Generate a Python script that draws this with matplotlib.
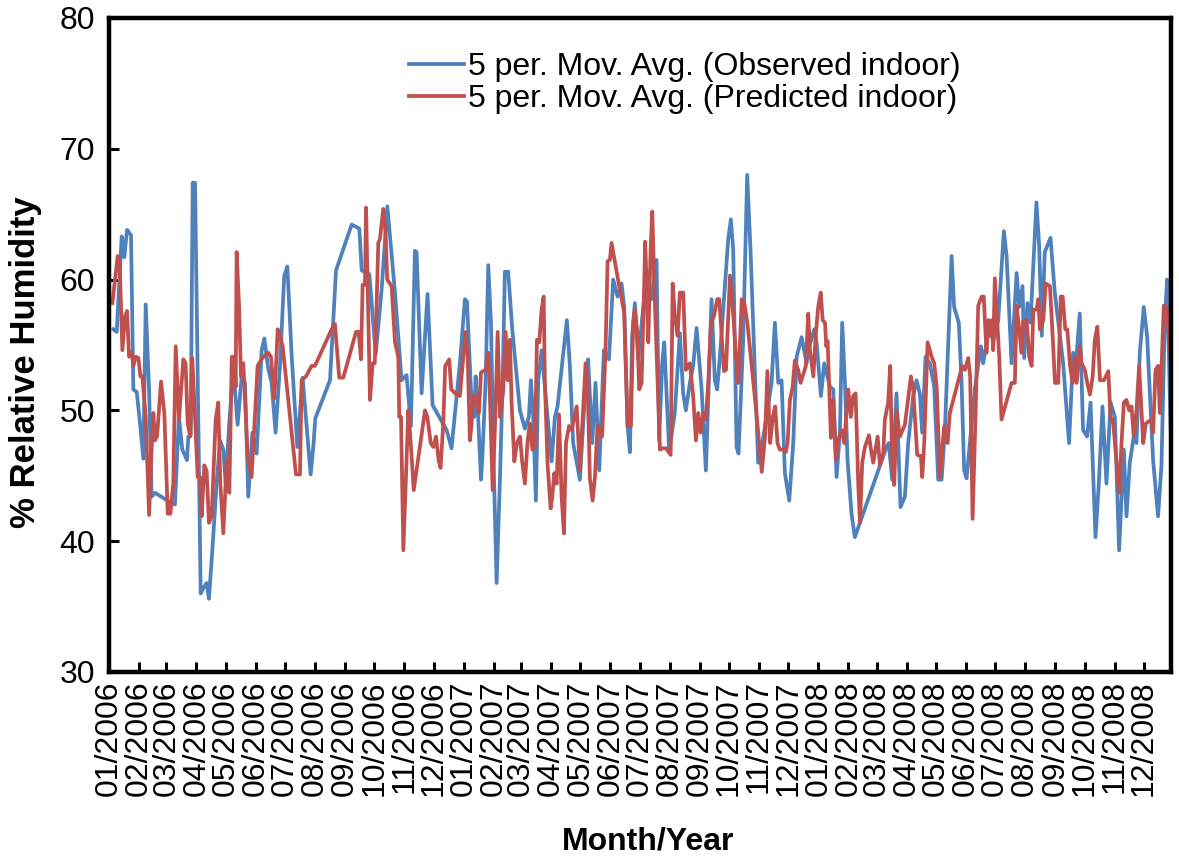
import numpy as np
import matplotlib
matplotlib.use("Agg")
import matplotlib.pyplot as plt
import matplotlib.dates as mdates

plt.rcParams['font.family'] = ['Liberation Sans', 'DejaVu Sans']

# days since 01/01/2006
obs_day = [4.4, 7.9, 13.0, 15.7, 18.5, 22.6, 25.0, 28.5, 31.9, 35.3, 37.7, 41.2, 43.8, 47.3, 64.4, 67.8,
           71.9, 75.4, 80.2, 81.6, 84.0, 86.1, 88.5, 91.9, 94.3, 97.0, 100.4, 102.8, 106.3, 110.7, 114.2,
           117.6, 120.0, 123.5, 126.8, 129.6, 132.3, 136.5, 139.9, 143.3, 147.5, 151.9, 157.1, 159.8,
           163.8, 167.3, 171.4, 175.9, 180.3, 183.5, 188.0, 193.8, 199.2, 207.5, 210.2, 212.3, 227.4,
           233.6, 249.7, 257.6, 260.0, 267.9, 274.5, 280.6, 286.4, 294.3, 301.1, 306.2, 310.7, 314.8,
           316.5, 321.7, 327.8, 333.0, 347.4, 352.5, 361.1, 366.3, 368.4, 372.5, 375.9, 377.3, 379.4,
           382.8, 384.1, 387.6, 390.3, 393.1, 395.5, 398.9, 402.3, 405.1, 407.4, 410.8, 415.0, 422.9,
           428.0, 432.1, 434.2, 436.6, 439.3, 441.7, 445.2, 451.3, 455.5, 458.9, 461.6, 471.2, 474.3,
           477.7, 484.6, 490.5, 493.1, 497.3, 500.7, 504.5, 509.3, 514.5, 518.9, 523.4, 527.5, 530.2,
           533.7, 536.1, 538.4, 541.2, 544.7, 551.5, 558.4, 563.5, 566.2, 569.3, 571.4, 576.5, 582.3,
           584.7, 587.5, 590.9, 593.7, 597.8, 601.2, 604.7, 609.9, 614.3, 618.4, 620.1, 623.5, 625.9,
           628.7, 637.3, 640.0, 642.4, 645.9, 647.9, 652.6, 656.8, 660.2, 668.1, 671.5, 681.9, 685.3,
           688.8, 692.2, 695.6, 700.1, 704.2, 707.7, 712.8, 718.0, 719.6, 725.8, 728.2, 732.7, 736.1,
           742.0, 745.4, 748.8, 752.2, 754.6, 757.4, 760.1, 764.2, 767.6, 800.2, 802.5, 806.0, 810.5,
           814.6, 819.1, 822.5, 827.7, 831.1, 834.5, 836.9, 840.4, 844.8, 849.3, 853.4, 856.9, 860.3,
           867.2, 869.8, 874.6, 877.4, 880.1, 882.6, 891.1, 897.3, 899.7, 906.6, 910.0, 915.2, 921.0,
           923.8, 928.9, 934.1, 936.8, 940.2, 941.9, 945.3, 948.4, 954.5, 957.3, 960.0, 963.1, 969.0,
           973.4, 982.0, 988.1, 992.3, 995.7, 999.1, 1002.5, 1006.6, 1010.2, 1015.3, 1018.7, 1022.5,
           1026.6, 1030.8, 1035.2, 1039.6, 1044.5, 1047.2, 1050.6, 1054.7, 1057.5, 1060.9, 1065.0,
           1068.4, 1074.6, 1079.7, 1083.2, 1086.6, 1089.0, 1093.0]
obs_rh = [56.2, 56.0, 63.3, 61.7, 63.8, 63.4, 51.6, 51.4, 49.0, 46.3, 58.1, 51.6, 43.4, 43.7, 42.9, 42.8,
          49.5, 47.0, 46.2, 48.0, 48.1, 67.4, 67.4, 48.8, 36.0, 36.4, 36.8, 35.6, 39.3, 44.4, 47.7,
          47.0, 44.4, 48.8, 52.1, 51.6, 48.9, 52.6, 52.1, 43.4, 48.3, 46.7, 54.6, 55.5,
          53.2, 52.1, 48.3, 53.4, 60.3, 61.0, 54.1, 47.2, 52.5, 45.1, 47.2, 49.4, 52.3,
          60.7, 64.2, 63.9, 60.7, 60.4, 54.3, 59.3, 65.6, 59.0, 52.3, 52.7, 48.8, 62.2,
          62.1, 51.3, 58.9, 50.4, 48.5, 47.1, 53.6, 58.5, 58.3, 51.6, 49.5, 52.6, 50.3,
          44.7, 46.2, 52.3, 61.1, 56.7, 47.0, 36.8, 44.7, 52.1, 60.6, 60.6, 56.2, 50.0,
          48.6, 49.5, 52.3, 49.5, 43.1, 52.3, 54.6, 49.5, 46.1, 49.5, 50.3, 56.9, 53.4,
          47.5, 44.7, 52.1, 53.9, 47.5, 52.1, 45.4, 54.6, 53.9, 60.0, 58.7, 59.7, 57.9,
          48.8, 46.8, 55.7, 58.2, 53.9, 59.2, 58.5, 61.5, 47.7, 53.6, 55.2, 46.9, 49.8,
          52.6, 55.9, 51.3, 50.0, 52.1, 53.4, 56.3, 51.6, 45.4, 54.6, 58.5, 52.3, 51.6,
          54.1, 63.1, 64.6, 62.3, 47.2, 46.7, 55.2, 68.0, 62.3, 46.0, 47.0, 52.1, 56.7,
          52.1, 52.3, 45.2, 43.1, 47.5, 54.1, 55.6, 53.6, 54.6, 56.2, 55.2, 51.1, 53.6,
          51.8, 51.6, 44.9, 48.3, 56.7, 52.1, 46.2, 42.1, 40.3, 47.2, 47.5, 44.7, 51.3,
          42.6, 43.4, 47.5, 51.1, 52.3, 51.3, 48.3, 54.1, 53.6, 51.8, 44.7, 44.7, 48.5,
          61.8, 57.9, 56.7, 52.3, 45.4, 44.8, 51.6, 54.9, 53.6, 56.7, 55.2, 56.9, 63.7,
          61.8, 53.6, 60.5, 57.9, 59.5, 54.0, 58.2, 56.7, 65.9, 62.6, 55.7, 62.1, 63.2,
          59.0, 53.6, 47.5, 54.4, 54.1, 57.4, 48.5, 48.0, 50.6, 40.3, 44.4, 50.3,
          44.4, 50.6, 49.5, 39.3, 47.0, 41.9, 46.0, 48.0, 47.5, 54.4, 57.9,
          55.7, 46.2, 41.9, 45.8, 56.7, 60.0, 47.5]

pred_day = [3.4, 8.9, 10.9, 13.7, 16.5, 18.5, 20.6, 23.3, 25.0, 27.4, 30.2, 32.3, 34.3, 37.7, 41.2, 43.8,
            45.6, 47.3, 49.4, 53.5, 56.9, 60.4, 63.1, 66.1, 68.6, 72.0, 76.4, 78.8, 80.9, 83.6, 85.6,
            87.7, 91.2, 93.6, 95.3, 98.0, 100.4, 102.8, 105.6, 109.7, 112.4, 114.5, 117.6, 121.1, 123.8,
            126.3, 129.0, 130.3, 131.3, 133.8, 135.8, 138.2, 142.7, 146.7, 152.9, 157.7, 163.8, 166.7,
            170.1, 171.5, 173.6, 175.9, 178.7, 192.4, 196.5, 198.2, 202.7, 208.5, 211.9, 229.1, 232.5,
            236.9, 241.1, 254.2, 256.9, 259.3, 261.0, 263.4, 264.5, 268.6, 271.3, 273.4, 274.7, 277.1,
            278.8, 282.2, 284.6, 286.3, 290.8, 294.3, 297.7, 298.7, 300.5, 302.9, 308.0, 310.5, 313.6,
            325.2, 327.6, 331.1, 333.8, 336.5, 339.2, 341.2, 344.0, 346.0, 350.1, 352.2, 357.7, 361.1,
            364.6, 367.0, 369.1, 371.4, 373.2, 374.8, 377.3, 380.7, 382.8, 387.6, 390.3, 392.1, 394.8,
            397.2, 400.0, 402.3, 405.8, 408.2, 410.3, 412.6, 414.3, 417.1, 419.8, 422.9, 425.3, 428.0,
            430.8, 433.2, 435.6, 438.4, 440.4, 442.8, 445.2, 447.3, 448.6, 451.4, 454.5, 456.2, 458.2,
            460.7, 463.1, 465.8, 468.2, 470.3, 473.4, 476.1, 481.3, 484.6, 487.5, 490.5, 492.5, 494.9,
            497.7, 500.1, 502.8, 505.2, 507.5, 511.0, 513.1, 515.5, 517.2, 525.8, 530.2, 533.7, 537.1,
            539.5, 541.2, 543.6, 545.7, 548.1, 550.5, 551.8, 553.3, 555.0, 557.4, 559.1, 561.8, 567.0,
            569.7, 573.2, 578.0, 580.1, 582.4, 585.2, 587.5, 591.0, 593.7, 597.8, 601.2, 604.0, 606.4,
            608.8, 611.5, 614.3, 616.7, 619.5, 622.6, 626.0, 628.1, 630.5, 632.9, 635.0, 639.1, 642.6,
            645.3, 647.7, 651.2, 653.9, 657.0, 666.7, 671.8, 675.2, 677.6, 680.4, 683.2, 685.6, 688.0,
            690.4, 694.0, 696.4, 698.4, 700.8, 703.6, 705.8, 709.3, 711.8, 717.2, 719.6, 721.4, 724.9,
            727.3, 730.0, 732.5, 734.5, 736.9, 738.2, 739.6, 743.0, 745.4, 748.1, 750.5, 754.0, 756.7,
            759.1, 760.8, 763.5, 765.9, 768.4, 771.1, 772.9, 775.2, 778.0, 782.1, 784.2, 786.5, 791.1,
            793.4, 796.9, 798.5, 801.9, 804.0, 806.1, 808.1, 810.6, 814.0, 819.1, 821.5, 825.3, 827.7,
            831.8, 835.6, 837.0, 839.0, 842.5, 846.6, 849.3, 851.8, 855.2, 859.6, 863.1, 865.4, 878.1,
            880.8, 884.3, 886.3, 888.8, 891.9, 894.6, 898.1, 900.3, 903.1, 905.2, 907.2, 908.6, 910.0,
            911.7, 914.1, 916.2, 918.6, 928.9, 932.3, 934.1, 936.8, 939.2, 940.9, 944.4, 947.1, 949.6,
            951.3, 954.7, 956.4, 958.1, 961.6, 964.0, 968.4, 971.2, 973.6, 977.0, 979.5, 981.5, 984.2,
            986.3, 989.1, 991.8, 994.2, 995.9, 999.3, 1001.0, 1004.4, 1006.8, 1009.6, 1012.4, 1014.6,
            1017.2, 1019.9, 1024.0, 1028.5, 1030.8, 1033.6, 1039.6, 1042.1, 1044.5, 1047.2, 1049.9,
            1052.4, 1054.7, 1057.5, 1060.2, 1064.4, 1067.1, 1073.0, 1074.6, 1077.1, 1079.7, 1081.5,
            1085.6, 1089.0, 1093.0]
pred_rh = [58.2, 61.8, 61.3, 54.6, 57.2, 57.6, 54.1, 54.4, 53.4, 54.1, 54.0, 52.6, 52.6, 49.5, 42.0, 47.0,
           49.8, 47.7, 48.0, 52.2, 49.8, 42.1, 42.1, 44.4, 54.9, 49.3, 53.9, 53.6, 49.0, 48.0, 54.0,
           50.8, 44.9, 44.9, 41.9, 45.8, 45.4, 41.4, 41.9, 49.3, 50.6, 44.4, 40.6, 46.2, 43.7,
           54.1, 54.1, 51.8, 62.1, 58.0, 52.6, 53.6, 46.5, 44.9, 53.4, 54.0, 54.4, 54.1,
           50.9, 52.9, 56.2, 55.7, 54.9, 45.1, 45.1, 52.3, 52.6, 53.4, 53.4, 56.2, 56.6,
           52.5, 52.5, 56.0, 56.0, 53.9, 59.6, 59.6, 65.5, 50.8, 53.6, 53.6, 56.2, 62.8,
           63.1, 65.4, 63.6, 60.0, 59.5, 55.2, 54.1, 49.5, 49.5, 39.3, 50.0, 47.5, 43.9,
           50.0, 49.5, 47.5, 47.2, 48.0, 46.2, 45.6, 49.0, 53.4, 53.9, 51.6, 51.2, 51.1,
           54.1, 56.0, 54.1, 47.7, 49.0, 51.1, 51.1, 49.8, 52.9, 53.1, 54.4, 50.8, 43.9,
           48.8, 56.0, 49.5, 51.6, 56.0, 52.3, 55.4, 50.6, 46.1, 47.5, 48.0, 46.0, 44.4,
           47.7, 49.0, 47.0, 47.2, 55.4, 55.2, 57.7, 58.7, 52.1, 45.8, 42.5, 43.4, 45.2,
           44.4, 49.7, 43.4, 40.6, 47.5, 48.8, 48.5, 50.3, 45.4, 49.5, 53.6, 52.1, 44.8,
           43.1, 44.9, 48.8, 48.5, 48.0, 54.6, 61.4, 61.5, 62.8, 59.2, 57.5, 48.8, 48.8,
           56.7, 57.7, 56.0, 51.6, 52.1, 58.7, 62.9, 59.7, 55.2, 62.3, 65.2, 58.2, 47.0,
           47.1, 47.1, 46.6, 59.7, 57.2, 55.7, 59.0, 59.0, 53.1, 53.6, 51.1, 47.7, 49.8,
           48.3, 49.8, 49.3, 52.1, 56.7, 57.2, 58.5, 58.5, 55.7, 53.0, 53.1, 60.3, 57.2,
           54.1, 52.1, 58.5, 58.2, 56.7, 49.5, 45.3, 48.0, 53.0, 47.5, 49.5, 50.3, 47.5,
           47.0, 47.0, 46.8, 47.5, 50.8, 51.8, 53.8, 53.1, 52.1, 53.4, 57.4, 54.6, 52.6,
           55.7, 58.0, 59.0, 56.9, 56.7, 54.9, 55.3, 47.9, 50.8, 46.2, 47.7, 48.5, 47.5,
           50.0, 51.6, 49.5, 51.1, 51.3, 44.4, 41.4, 46.0, 47.2, 48.1, 47.0, 46.0, 48.0,
           45.8, 46.8, 49.3, 50.6, 53.4, 45.8, 44.3, 50.0, 48.0, 48.9, 50.3, 52.6, 51.6,
           46.6, 46.5, 44.9, 47.5, 55.2, 54.1, 53.6, 51.8, 44.9, 48.8, 47.5, 49.8, 53.4,
           53.1, 54.0, 52.6, 41.7, 49.8, 58.0, 58.7, 58.7, 54.4, 56.9, 55.7, 56.9, 54.6,
           60.1, 56.9, 54.1, 49.3, 52.1, 52.1, 58.0, 56.2, 54.4, 56.8, 56.9, 54.1, 53.4,
           57.7, 57.7, 58.5, 56.2, 56.9, 59.7, 59.5, 55.7, 52.1, 52.1, 58.7, 58.7, 56.2,
           56.2, 53.4, 52.1, 54.1, 52.1, 54.9, 53.6, 53.1, 52.1, 51.2, 52.6, 55.4,
           56.4, 52.3, 52.3, 53.0, 49.5, 49.0, 43.7, 47.5, 50.6, 50.8, 50.0,
           50.3, 48.0, 50.0, 53.4, 47.5, 49.0, 49.3, 48.3, 53.1, 53.4, 49.8,
           58.0, 57.7, 53.6]

series_names = ['5 per. Mov. Avg. (Observed indoor)', '5 per. Mov. Avg. (Predicted indoor)']
start = np.datetime64('2006-01-01T00:00')
end_day = 1093.0


def to_dates(days):
    return start + (np.array(days) * 24 * 60).astype('timedelta64[m]')


fig = plt.figure(figsize=(11.79, 8.56), dpi=100)
ax = fig.add_axes([0.0925, 0.215, 0.9007, 0.764])

ax.plot(to_dates(obs_day), obs_rh, color='#4F81BD', lw=2.7, label=series_names[0], solid_joinstyle='round')
ax.plot(to_dates(pred_day), pred_rh, color='#C0504D', lw=2.7, label=series_names[1], solid_joinstyle='round')

ax.set_xlim(start, to_dates([end_day])[0])
ax.set_ylim(30, 80)
ax.set_yticks([30, 40, 50, 60, 70, 80])
ax.xaxis.set_major_locator(mdates.MonthLocator())
ax.xaxis.set_major_formatter(mdates.DateFormatter('%m/%Y'))

for s in ax.spines.values():
    s.set_linewidth(3.2)
    s.set_color('black')
ax.tick_params(axis='both', direction='in', length=7, width=2.2, colors='black')
ax.tick_params(axis='x', labelsize=23, rotation=90, pad=6)
ax.tick_params(axis='y', labelsize=23, pad=10)

ax.set_xlabel('Month/Year', fontsize=23, fontweight='bold')
ax.set_ylabel('% Relative Humidity', fontsize=25, fontweight='bold')
ax.xaxis.set_label_coords(0.5075, -0.236)
ax.yaxis.set_label_coords(-0.063, 0.474)

ax.legend(loc='upper left', bbox_to_anchor=(0.27, 0.968), frameon=False, fontsize=23,
          handlelength=1.75, handletextpad=0.12, labelspacing=0.08, borderaxespad=0)

fig.savefig('out.png', dpi=100)
